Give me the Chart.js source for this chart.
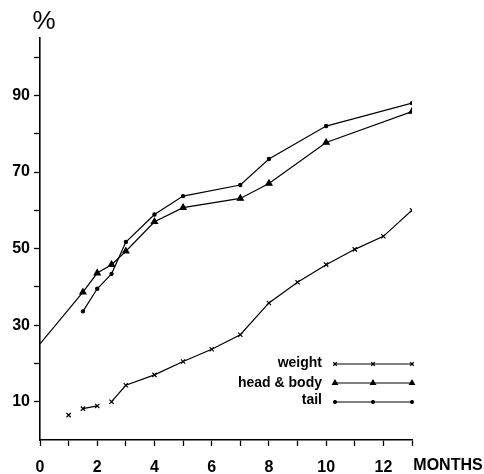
<!DOCTYPE html>
<html>
<head>
<meta charset="utf-8">
<script src="https://cdn.jsdelivr.net/npm/chart.js@4"></script>
<style>
  html, body { margin: 0; padding: 0; background: #fff; }
  #wrap { width: 484px; height: 474px; }
</style>
</head>
<body>
<div id="wrap"><canvas id="growth"></canvas></div>
<script>
var weightMonths = [1, 1.5, 2, 2.5, 3, 4, 5, 6, 7, 8, 9, 10, 11, 12, 13];
var weightValues = [6.5, 8.2, 8.9, 10.0, 14.3, 17.0, 20.5, 23.7, 27.5, 35.8, 41.2, 45.8, 49.8, 53.2, 60.0];

var headBodyMonths = [0, 1.5, 2, 2.5, 3, 4, 5, 7, 8, 10, 13];
var headBodyValues = [25.1, 38.6, 43.6, 45.8, 49.3, 57.0, 60.7, 63.1, 67.0, 77.7, 85.8];

var tailMonths = [1.5, 2, 2.5, 3, 4, 5, 7, 8, 10, 13];
var tailValues = [33.6, 39.5, 43.4, 51.7, 58.9, 63.7, 66.6, 73.4, 82.0, 88.0];

var monthTickLabels = ["0", "2", "4", "6", "8", "10", "12"];
var percentTickLabels = ["10", "30", "50", "70", "90"];

function toPoints(xs, ys) {
  return xs.map(function (x, i) { return { x: x, y: ys[i] }; });
}

var font = "'Liberation Sans', Arial, Helvetica, sans-serif";

// draws "%" above the y axis, "MONTHS" after the last label and the key box
var extras = {
  id: "extras",
  afterDraw: function (chart) {
    var c = chart.ctx;
    var xs = chart.scales.x;
    c.save();
    c.fillStyle = "#000";
    c.font = "26px " + font;
    c.textAlign = "center";
    c.textBaseline = "middle";
    c.fillText("%", 44, 22);

    c.font = "bold 16px " + font;
    c.fillText("MONTHS", 448, xs.bottom - 8);

    var rows = [
      { text: 363, line: 364 },
      { text: 383, line: 383 },
      { text: 400, line: 402 }
    ];
    c.font = "bold 14px " + font;
    c.textAlign = "right";
    chart.data.datasets.forEach(function (ds, i) {
      var r = rows[i];
      c.fillStyle = "#000";
      c.fillText(ds.label, 322, r.text);
      c.strokeStyle = "#000";
      c.lineWidth = 1.2;
      c.beginPath();
      c.moveTo(335, r.line);
      c.lineTo(412, r.line);
      c.stroke();
      [335, 373, 412].forEach(function (px) {
        Chart.helpers.drawPoint(c, {
          pointStyle: ds.pointStyle,
          radius: ds.legendRadius,
          borderWidth: 1.2
        }, px, r.line);
        if (ds.pointStyle !== "crossRot") c.fill();
      });
    });
    c.restore();
  }
};

new Chart(document.getElementById("growth"), {
  type: "line",
  data: {
    datasets: [
      {
        label: "weight",
        data: toPoints(weightMonths, weightValues),
        pointStyle: "crossRot",
        pointRadius: 3,
        legendRadius: 2.5,
        borderColor: "#000",
        backgroundColor: "#000",
        borderWidth: 1.2,
        // the early weighings are not joined in the original
        segment: {
          borderColor: function (ctx) {
            return ctx.p0DataIndex === 0 || ctx.p0DataIndex === 2 ? "rgba(0,0,0,0)" : "#000";
          }
        }
      },
      {
        label: "head & body",
        data: toPoints(headBodyMonths, headBodyValues),
        pointStyle: "triangle",
        pointRadius: function (ctx) { return ctx.raw && ctx.raw.x === 0 ? 0 : 3.5; },
        legendRadius: 2.8,
        borderColor: "#000",
        backgroundColor: "#000",
        borderWidth: 1.2
      },
      {
        label: "tail",
        data: toPoints(tailMonths, tailValues),
        pointStyle: "circle",
        pointRadius: 1.6,
        legendRadius: 1.4,
        borderColor: "#000",
        backgroundColor: "#000",
        borderWidth: 1.2
      }
    ]
  },
  options: {
    responsive: true,
    maintainAspectRatio: false,
    animation: false,
    layout: { padding: { top: 38, right: 72, left: 0, bottom: 0 } },
    plugins: {
      legend: { display: false },
      tooltip: { enabled: false }
    },
    scales: {
      x: {
        type: "linear",
        min: 0,
        max: 13,
        afterFit: function (s) { s.height = 34; },
        afterBuildTicks: function (s) {
          s.ticks = [];
          for (var m = 0; m <= 13; m++) s.ticks.push({ value: m });
        },
        border: { display: true, color: "#000", width: 1.6 },
        grid: { display: true, drawOnChartArea: false, color: "#000", tickLength: 6, tickWidth: 1.3 },
        ticks: {
          padding: 12,
          maxRotation: 0,
          autoSkip: false,
          color: "#000",
          font: { family: font, size: 16, weight: "bold" },
          callback: function (v) {
            var i = monthTickLabels.indexOf(String(v));
            return i >= 0 ? monthTickLabels[i] : "";
          }
        }
      },
      y: {
        min: 0,
        max: 105,
        afterFit: function (s) { s.width = 40; },
        afterBuildTicks: function (s) {
          s.ticks = [];
          for (var v = 10; v <= 100; v += 10) s.ticks.push({ value: v });
        },
        border: { display: true, color: "#000", width: 1.6 },
        grid: { display: true, drawOnChartArea: false, color: "#000", tickLength: 6, tickWidth: 1.3 },
        ticks: {
          padding: 4,
          autoSkip: false,
          color: "#000",
          font: { family: font, size: 16, weight: "bold" },
          callback: function (v) {
            var i = percentTickLabels.indexOf(String(v));
            return i >= 0 ? percentTickLabels[i] : "";
          }
        }
      }
    }
  },
  plugins: [extras]
});
</script>
</body>
</html>
